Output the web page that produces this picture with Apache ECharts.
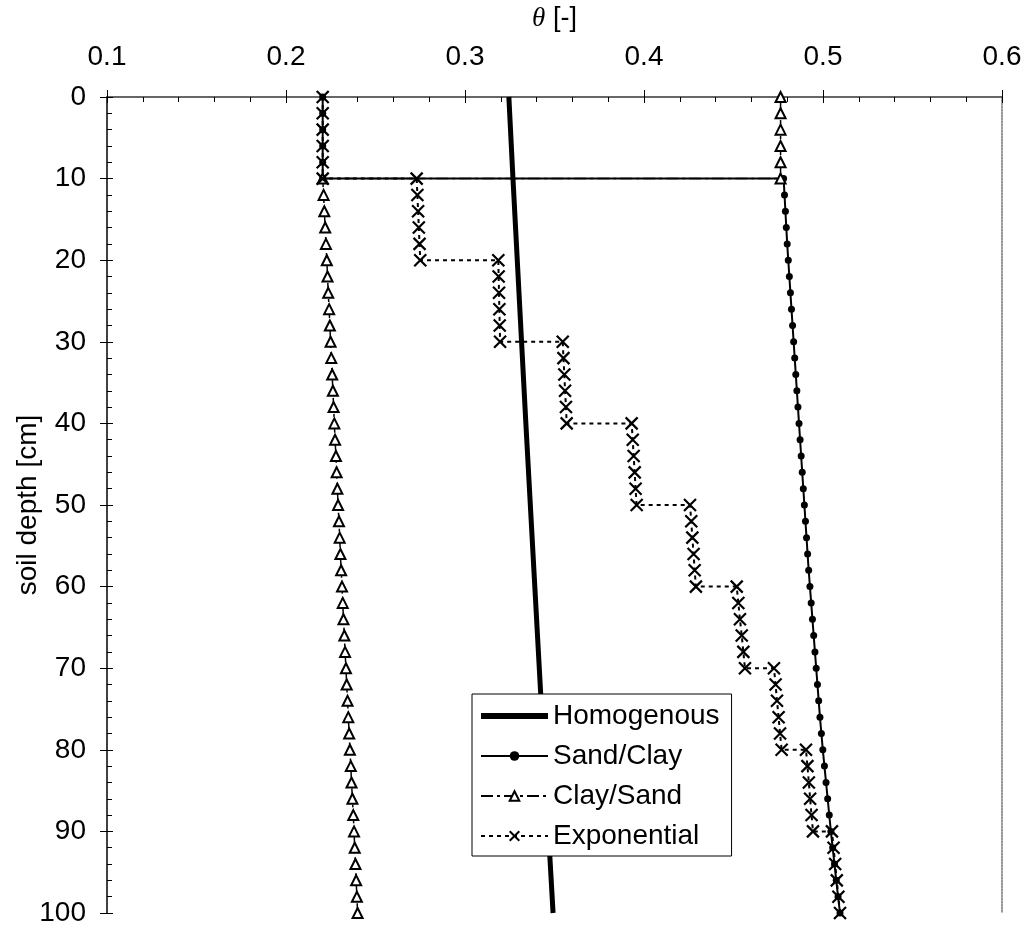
<!DOCTYPE html>
<html>
<head>
<meta charset="utf-8">
<script src="https://cdn.jsdelivr.net/npm/echarts@6/dist/echarts.min.js"></script>
<style>html,body{margin:0;padding:0;background:#fff;}#c{width:1023px;height:925px;}</style>
</head>
<body>
<div id="c"></div>
<script>
// ---- data ----
const xTicks = [0.1, 0.2, 0.3, 0.4, 0.5, 0.6];
const yTicks = [0, 10, 20, 30, 40, 50, 60, 70, 80, 90, 100];

const homogDepth = [0, 10, 20, 30, 40, 50, 60, 70, 80, 90, 100];
const homogTheta = [0.3245, 0.3268, 0.3292, 0.3316, 0.3340, 0.3365, 0.3390, 0.3415, 0.3440, 0.3466, 0.3492];

const sandClayDepth = [0, 2, 4, 6, 8, 10,
  10, 12, 14, 16, 18, 20, 22, 24, 26, 28, 30, 32, 34, 36, 38, 40, 42, 44, 46, 48, 50,
  52, 54, 56, 58, 60, 62, 64, 66, 68, 70, 72, 74, 76, 78, 80, 82, 84, 86, 88, 90, 92, 94, 96, 98, 100];
const sandClayTheta = [0.2205, 0.2205, 0.2205, 0.2205, 0.2205, 0.2205,
  0.4780, 0.4785, 0.4790, 0.4795, 0.4800, 0.4806, 0.4812, 0.4818, 0.4824, 0.4830, 0.4836,
  0.4842, 0.4848, 0.4854, 0.4860, 0.4866, 0.4872, 0.4878, 0.4884, 0.4890, 0.4896,
  0.4902, 0.4908, 0.4914, 0.4920, 0.4927, 0.4934, 0.4941, 0.4948, 0.4955, 0.4962,
  0.4969, 0.4976, 0.4983, 0.4991, 0.4999, 0.5008, 0.5017, 0.5026, 0.5035, 0.5044,
  0.5054, 0.5064, 0.5074, 0.5084, 0.5095];

const claySandDepth = [0, 2, 4, 6, 8, 10,
  10, 12, 14, 16, 18, 20, 22, 24, 26, 28, 30, 32, 34, 36, 38, 40, 42, 44, 46, 48, 50,
  52, 54, 56, 58, 60, 62, 64, 66, 68, 70, 72, 74, 76, 78, 80, 82, 84, 86, 88, 90, 92, 94, 96, 98, 100];
const claySandTheta = [0.4763, 0.4763, 0.4763, 0.4763, 0.4763, 0.4763,
  0.2205, 0.2210, 0.2214, 0.2219, 0.2223, 0.2228, 0.2232, 0.2236, 0.2241, 0.2245, 0.2249,
  0.2253, 0.2258, 0.2262, 0.2266, 0.2270, 0.2274, 0.2279, 0.2283, 0.2287, 0.2291,
  0.2296, 0.2300, 0.2304, 0.2308, 0.2313, 0.2317, 0.2321, 0.2326, 0.2330, 0.2335,
  0.2339, 0.2344, 0.2348, 0.2353, 0.2357, 0.2362, 0.2366, 0.2371, 0.2376, 0.2380,
  0.2384, 0.2388, 0.2392, 0.2396, 0.2400];

const expDepth = [0, 2, 4, 6, 8, 10,
  10, 12, 14, 16, 18, 20,
  20, 22, 24, 26, 28, 30,
  30, 32, 34, 36, 38, 40,
  40, 42, 44, 46, 48, 50,
  50, 52, 54, 56, 58, 60,
  60, 62, 64, 66, 68, 70,
  70, 72, 74, 76, 78, 80,
  80, 82, 84, 86, 88, 90,
  90, 92, 94, 96, 98, 100];
const expTheta = [0.2205, 0.2205, 0.2205, 0.2205, 0.2205, 0.2205,
  0.2730, 0.2734, 0.2738, 0.2742, 0.2746, 0.2750,
  0.3186, 0.3188, 0.3190, 0.3192, 0.3194, 0.3196,
  0.3546, 0.3550, 0.3555, 0.3559, 0.3564, 0.3568,
  0.3931, 0.3937, 0.3942, 0.3948, 0.3953, 0.3959,
  0.4257, 0.4264, 0.4270, 0.4277, 0.4283, 0.4290,
  0.4518, 0.4527, 0.4536, 0.4546, 0.4555, 0.4564,
  0.4726, 0.4735, 0.4743, 0.4752, 0.4760, 0.4769,
  0.4905, 0.4913, 0.4921, 0.4928, 0.4936, 0.4944,
  0.5050, 0.5059, 0.5068, 0.5077, 0.5086, 0.5095];

const seriesNames = ['Homogenous', 'Sand/Clay', 'Clay/Sand', 'Exponential'];

// ---- chart ----
const pairs = (xs, ys) => xs.map((x, i) => [x, ys[i]]);
const FONT = 'Arial, "Liberation Sans", sans-serif';
const xMin = xTicks[0], xMax = xTicks[xTicks.length - 1];
const yMin = yTicks[0], yMax = yTicks[yTicks.length - 1];

const chart = echarts.init(document.getElementById('c'));
chart.setOption({
  animation: false,
  backgroundColor: '#fff',
  grid: { left: 107, right: 21, top: 97, bottom: 12, containLabel: false, outerBoundsMode: 'none' },
  xAxis: [
    {
      type: 'value', position: 'top', min: xMin, max: xMax, interval: 0.1,
      name: '{i|θ} [-]', nameLocation: 'middle', nameGap: 65,
      nameTextStyle: { fontSize: 27, fontFamily: FONT, color: '#000',
        rich: { i: { fontSize: 27, fontStyle: 'italic', fontFamily: '"Liberation Serif", "DejaVu Serif", serif', color: '#000' } } },
      axisLine: { show: true, lineStyle: { color: '#000', width: 1.5 } },
      axisTick: { show: true, inside: false, length: 7, lineStyle: { color: '#000', width: 1 } },
      minorTick: { show: false },
      axisLabel: { fontSize: 28, fontFamily: FONT, color: '#000', margin: 26,
        formatter: v => v.toFixed(1) },
      splitLine: { show: false }
    },
    {
      type: 'value', position: 'top', min: xMin, max: xMax, interval: 0.1,
      axisLine: { show: false },
      axisTick: { show: true, inside: true, length: 6, lineStyle: { color: '#000', width: 1 } },
      minorTick: { show: true, splitNumber: 5, length: 5, lineStyle: { color: '#000', width: 1 } },
      axisLabel: { show: false }, splitLine: { show: false }
    },
    {
      type: 'value', position: 'bottom', min: xMin, max: xMax, interval: 0.1,
      axisLine: { show: true, lineStyle: { color: '#777', width: 1.5, type: [2, 1] } },
      axisTick: { show: false }, axisLabel: { show: false }, splitLine: { show: false }
    }
  ],
  yAxis: [
    {
      type: 'value', inverse: true, position: 'left', min: yMin, max: yMax, interval: 10,
      name: 'soil depth [cm]', nameLocation: 'middle', nameGap: 65, nameRotate: 90,
      nameMoveOverlap: false,
      nameTextStyle: { fontSize: 28, fontFamily: FONT, color: '#000' },
      axisLine: { show: true, lineStyle: { color: '#000', width: 1.5 } },
      axisTick: { show: true, inside: false, length: 7, lineStyle: { color: '#000', width: 1 } },
      axisLabel: { fontSize: 28, fontFamily: FONT, color: '#000', margin: 21 },
      splitLine: { show: false }
    },
    {
      type: 'value', inverse: true, position: 'left', min: yMin, max: yMax, interval: 10,
      axisLine: { show: false },
      axisTick: { show: true, inside: true, length: 6, lineStyle: { color: '#000', width: 1 } },
      minorTick: { show: true, splitNumber: 5, length: 5, lineStyle: { color: '#000', width: 1 } },
      axisLabel: { show: false }, splitLine: { show: false }
    },
    {
      type: 'value', inverse: true, position: 'right', min: yMin, max: yMax, interval: 10,
      axisLine: { show: true, lineStyle: { color: '#777', width: 1.5, type: [2, 1] } },
      axisTick: { show: false }, axisLabel: { show: false }, splitLine: { show: false }
    }
  ],
  legend: {
    orient: 'vertical', left: 472, top: 694,
    backgroundColor: '#fff', borderColor: '#000', borderWidth: 1,
    padding: [8, 12, 6, 6], itemWidth: 67, itemHeight: 12, itemGap: 12,
    textStyle: { fontSize: 28, fontFamily: FONT, color: '#000' },
    data: [
      { name: seriesNames[0], lineStyle: { width: 6 }, itemStyle: { color: 'rgba(0,0,0,0)', borderWidth: 0 } },
      { name: seriesNames[1] },
      { name: seriesNames[2] },
      { name: seriesNames[3] }
    ]
  },
  series: [
    {
      name: seriesNames[0], type: 'line', xAxisIndex: 0, yAxisIndex: 0,
      data: pairs(homogTheta, homogDepth), showSymbol: false, symbol: 'none',
      lineStyle: { color: '#000', width: 5 }, itemStyle: { color: '#000' }, z: 2
    },
    {
      name: seriesNames[1], type: 'line', xAxisIndex: 0, yAxisIndex: 0,
      data: pairs(sandClayTheta, sandClayDepth), symbol: 'circle', symbolSize: 7,
      lineStyle: { color: '#000', width: 2 }, itemStyle: { color: '#000', borderWidth: 0 }, z: 3
    },
    {
      name: seriesNames[2], type: 'line', xAxisIndex: 0, yAxisIndex: 0,
      data: pairs(claySandTheta, claySandDepth), symbol: 'triangle', symbolSize: 10,
      lineStyle: { color: '#000', width: 1.5, type: [12, 4, 3, 4] },
      itemStyle: { color: '#fff', borderColor: '#000', borderWidth: 2 }, z: 4
    },
    {
      name: seriesNames[3], type: 'line', xAxisIndex: 0, yAxisIndex: 0,
      data: pairs(expTheta, expDepth), symbol: 'path://M0,0L10,10M0,10L10,0', symbolSize: 12,
      lineStyle: { color: '#000', width: 2, type: [4, 4] },
      itemStyle: { color: 'rgba(0,0,0,0)', borderColor: '#000', borderWidth: 2.2 }, z: 5
    }
  ]
});
</script>
</body>
</html>
